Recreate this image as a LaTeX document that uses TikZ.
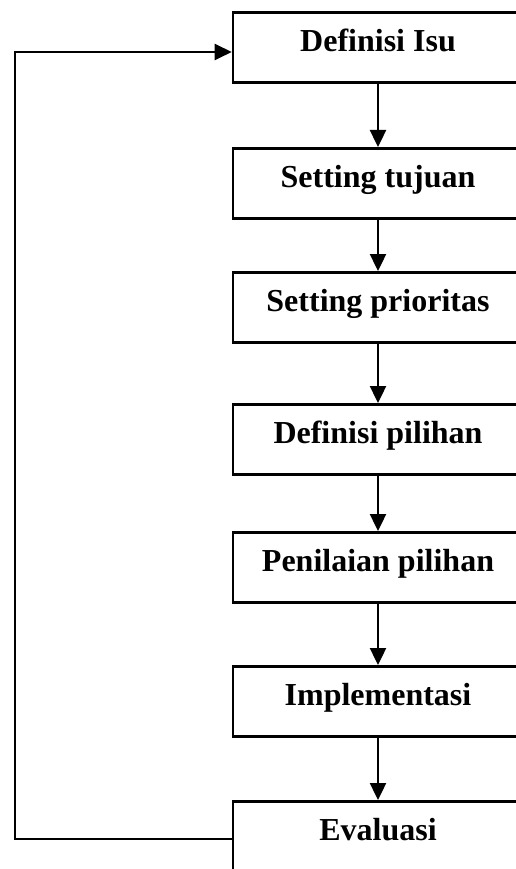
\documentclass[tikz,border=0pt]{standalone}
\usepackage{fontspec}
\setmainfont{Liberation Serif}
\usetikzlibrary{arrows.meta}
\begin{document}
\begin{tikzpicture}[x=1pt,y=-1pt,
  stepbox/.style={draw,line width=2.6pt,minimum width=290pt,inner xsep=0pt,inner ysep=0pt,
    text height=39pt,text depth=31pt,anchor=north,
    font=\fontsize{32}{38}\selectfont\bfseries},
  flow/.style={line width=2.4pt,-{Triangle[width=16pt,length=17pt]}}]
\useasboundingbox (0,0) rectangle (516,869);
\clip (0,0) rectangle (516,869);
\node[stepbox] (d1) at (378,11) {Definisi Isu};
\node[stepbox] (d2) at (378,147) {Setting tujuan};
\node[stepbox] (d3) at (378,271) {Setting prioritas};
\node[stepbox] (d4) at (378,403) {Definisi pilihan};
\node[stepbox] (d5) at (378,531) {Penilaian pilihan};
\node[stepbox] (d6) at (378,665) {Implementasi};
\node[stepbox] (d7) at (378,800) {Evaluasi};
\draw[flow] (d1) -- (d2);
\draw[flow] (d2) -- (d3);
\draw[flow] (d3) -- (d4);
\draw[flow] (d4) -- (d5);
\draw[flow] (d5) -- (d6);
\draw[flow] (d6) -- (d7);
\coordinate (c1) at (15,52);
\coordinate (c2) at (15,839);
\draw[flow] (d7.west |- c2) -- (c2) -- (c1) -- (d1.west |- c1);
\end{tikzpicture}
\end{document}
